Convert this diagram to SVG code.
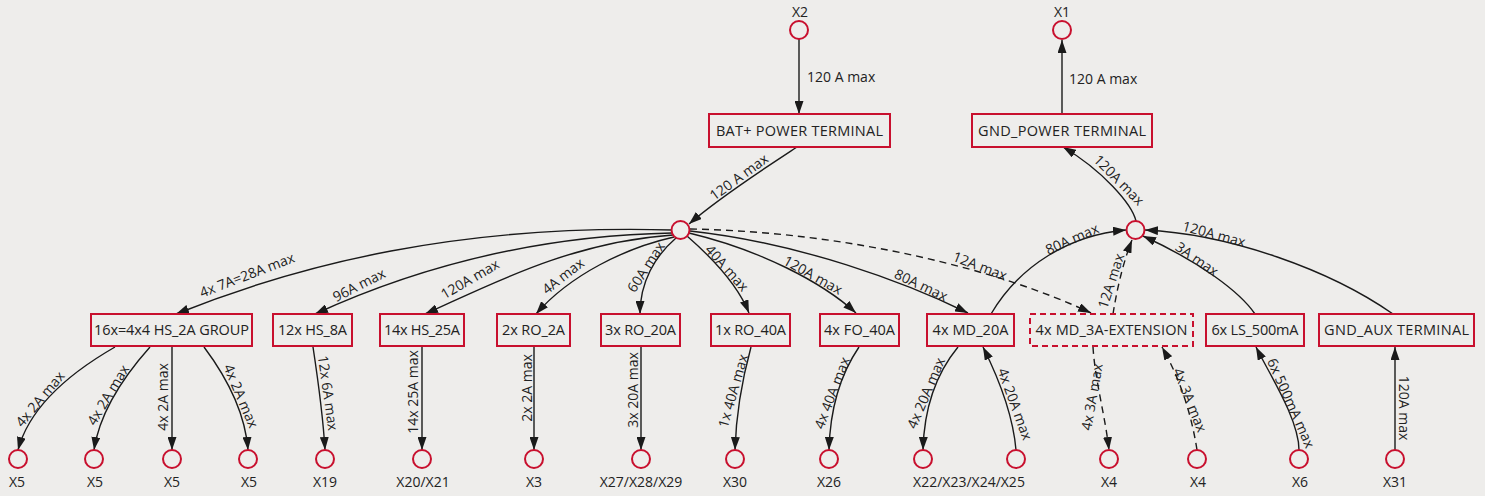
<svg xmlns="http://www.w3.org/2000/svg" width="1485" height="496" viewBox="0 0 1485 496">
<defs>
<marker id="arr" markerUnits="userSpaceOnUse" markerWidth="13" markerHeight="9" refX="13" refY="4.5" orient="auto">
<path d="M0,0 L13,4.5 L0,9 z" fill="#1a1a1a"/>
</marker>
<style>
text{font-family:"Open Sans","Liberation Sans",sans-serif;font-size:14px;fill:#222;}
.n{font-size:14.5px;text-anchor:middle;}
.box{fill:none;stroke:#c8102e;stroke-width:2;}
.dbox{fill:none;stroke:#c8102e;stroke-width:2;stroke-dasharray:6,4;}
.pin{fill:none;stroke:#c8102e;stroke-width:2;}
.e{fill:none;stroke:#1a1a1a;stroke-width:1.4;marker-end:url(#arr);}
.d{stroke-dasharray:7,5;}
.c{text-anchor:middle;}
</style>
</defs>
<rect width="1485" height="496" fill="#eeedeb"/>

<g id="connectors">
<path class="e" d="M799,39 L799,114"/>
<path class="e" d="M1062,114 L1062,40"/>
<path class="e" d="M797,147 C765,168 720,197 689,224"/>
<path class="e" d="M1136,221 C1132,204 1102,170 1063,147"/>
<path class="e" d="M672,230 C460,224 300,264 176,314"/>
<path class="e" d="M672,233 C520,236 400,275 315,314"/>
<path class="e" d="M673,235 C570,242 490,285 425,314"/>
<path class="e" d="M674,237 C625,248 570,275 536,314"/>
<path class="e" d="M676,238 C655,256 640,282 640,314"/>
<path class="e" d="M687,236 C710,256 737,283 749,313"/>
<path class="e" d="M689,233 C760,250 822,282 856,313"/>
<path class="e" d="M690,231 C800,243 905,282 968,313"/>
<path class="e d" d="M690,229 C850,232 1000,270 1091,313"/>
<path class="e" d="M991,314 C1020,265 1070,235 1126,230"/>
<path class="e d" d="M1113,314 C1116,295 1122,265 1132,240"/>
<path class="e" d="M1255,314 C1240,292 1200,262 1143,236"/>
<path class="e" d="M1393,314 C1330,270 1230,234 1145,230"/>
<path class="e" d="M115,347 C75,370 30,405 18,450"/>
<path class="e" d="M150,347 C125,375 100,410 94,450"/>
<path class="e" d="M172,347 L172,450"/>
<path class="e" d="M204,347 C225,375 245,410 248,450"/>
<path class="e" d="M313,347 C318,380 323,415 325,450"/>
<path class="e" d="M422,347 L422,450"/>
<path class="e" d="M534,347 L534,450"/>
<path class="e" d="M641,347 L641,450"/>
<path class="e" d="M751,347 C742,380 736,415 735,450"/>
<path class="e" d="M859,347 C840,375 830,410 829,450"/>
<path class="e" d="M958,347 C935,375 924,410 923,450"/>
<path class="e" d="M1016,450 C1013,415 997,375 983,347"/>
<path class="e d" d="M1093,347 C1095,380 1105,415 1109,450"/>
<path class="e d" d="M1197,450 C1190,405 1176,372 1162,347"/>
<path class="e" d="M1299,450 C1299,420 1270,375 1256,347"/>
<path class="e" d="M1395,450 L1395,347"/>

<text x="807" y="82">120 A max</text>
<text x="1069" y="84">120 A max</text>
<text class="c" transform="translate(739,177) rotate(-36)" y="5">120 A max</text>
<text class="c" transform="translate(1119,180) rotate(45)" y="5">120A max</text>
<text class="c" transform="translate(247,275) rotate(-21)" y="5">4x 7A=28A max</text>
<text class="c" transform="translate(359,285) rotate(-27)" y="5">96A max</text>
<text class="c" transform="translate(470,279) rotate(-30)" y="5">120A max</text>
<text class="c" transform="translate(563,276) rotate(-38)" y="5">4A max</text>
<text class="c" transform="translate(646,267) rotate(-57)" y="5">60A max</text>
<text class="c" transform="translate(727,268) rotate(48)" y="5">40A max</text>
<text class="c" transform="translate(813,275) rotate(29)" y="5">120A max</text>
<text class="c" transform="translate(921,285) rotate(25)" y="5">80A max</text>
<text class="c" transform="translate(980,266) rotate(21)" y="5">12A max</text>
<text class="c" transform="translate(1072,239) rotate(-24)" y="5">80A max</text>
<text class="c" transform="translate(1111,281) rotate(-72)" y="5">12A max</text>
<text class="c" transform="translate(1197,259) rotate(35)" y="5">3A max</text>
<text class="c" transform="translate(1214,234) rotate(15)" y="5">120A max</text>
<text class="c" transform="translate(40,399) rotate(-50)" y="5">4x 2A max</text>
<text class="c" transform="translate(108,395) rotate(-59)" y="5">4x 2A max</text>
<text class="c" transform="translate(163,397) rotate(-90)" y="5">4x 2A max</text>
<text class="c" transform="translate(241,396) rotate(67)" y="5">4x 2A max</text>
<text class="c" transform="translate(328,393) rotate(82)" y="5">12x 6A max</text>
<text class="c" transform="translate(413,392) rotate(-90)" y="5">14x 25A max</text>
<text class="c" transform="translate(527,388) rotate(-90)" y="5">2x 2A max</text>
<text class="c" transform="translate(633,390) rotate(-90)" y="5">3x 20A max</text>
<text class="c" transform="translate(733,391) rotate(-74)" y="5">1x 40A max</text>
<text class="c" transform="translate(832,393) rotate(-69)" y="5">4x 40A max</text>
<text class="c" transform="translate(926,393) rotate(-67)" y="5">4x 20A max</text>
<text class="c" transform="translate(1015,404) rotate(70)" y="5">4x 20A max</text>
<text class="c" transform="translate(1092,397) rotate(-80)" y="5">4x 3A max</text>
<text class="c" transform="translate(1190,400) rotate(68)" y="5">4x 3A max</text>
<text class="c" transform="translate(1291,403) rotate(66)" y="5">6x 500mA max</text>
<text class="c" transform="translate(1404,408) rotate(90)" y="5">120A max</text>
</g>

<g id="X2"><circle class="pin" cx="799" cy="30" r="9"/><text class="c" x="800" y="16.5">X2</text></g>
<g id="X1"><circle class="pin" cx="1062" cy="30" r="9"/><text class="c" x="1062" y="16.5">X1</text></g>
<g id="bat"><rect class="box" x="709" y="114" width="181" height="33"/><text class="n" x="799.5" y="135.5" textLength="167">BAT+ POWER TERMINAL</text></g>
<g id="gndpwr"><rect class="box" x="972" y="114" width="180" height="33"/><text class="n" x="1062" y="135.5" textLength="168">GND_POWER TERMINAL</text></g>
<g id="hub1"><circle class="pin" cx="680.5" cy="230" r="9"/></g>
<g id="hub2"><circle class="pin" cx="1135.5" cy="230" r="9"/></g>

<g id="hs2a"><rect class="box" x="91" y="314" width="161" height="32"/><text class="n" x="171.5" y="335" textLength="155">16x=4x4 HS_2A GROUP</text></g>
<g id="hs8a"><rect class="box" x="273" y="314" width="79" height="32"/><text class="n" x="312.5" y="335" textLength="69">12x HS_8A</text></g>
<g id="hs25a"><rect class="box" x="380" y="314" width="84" height="32"/><text class="n" x="422" y="335" textLength="76">14x HS_25A</text></g>
<g id="ro2a"><rect class="box" x="497" y="314" width="73" height="32"/><text class="n" x="533.5" y="335" textLength="63">2x RO_2A</text></g>
<g id="ro20a"><rect class="box" x="601" y="314" width="79" height="32"/><text class="n" x="640.5" y="335" textLength="71">3x RO_20A</text></g>
<g id="ro40a"><rect class="box" x="711" y="314" width="79" height="32"/><text class="n" x="750.5" y="335" textLength="71">1x RO_40A</text></g>
<g id="fo40a"><rect class="box" x="820" y="314" width="79" height="32"/><text class="n" x="859.5" y="335" textLength="71">4x FO_40A</text></g>
<g id="md20a"><rect class="box" x="927" y="314" width="87" height="32"/><text class="n" x="970.5" y="335" textLength="76">4x MD_20A</text></g>
<g id="md3a"><rect class="dbox" x="1030" y="314" width="163" height="32"/><text class="n" x="1111.5" y="335" textLength="152">4x MD_3A-EXTENSION</text></g>
<g id="ls500"><rect class="box" x="1206" y="314" width="98" height="32"/><text class="n" x="1255" y="335" textLength="87">6x LS_500mA</text></g>
<g id="gndaux"><rect class="box" x="1319" y="314" width="155" height="32"/><text class="n" x="1396.5" y="335" textLength="145">GND_AUX TERMINAL</text></g>

<g id="p1"><circle class="pin" cx="18" cy="459" r="9"/><text class="c" x="17" y="487">X5</text></g>
<g id="p2"><circle class="pin" cx="94" cy="459" r="9"/><text class="c" x="95" y="487">X5</text></g>
<g id="p3"><circle class="pin" cx="172" cy="459" r="9"/><text class="c" x="172" y="487">X5</text></g>
<g id="p4"><circle class="pin" cx="248" cy="459" r="9"/><text class="c" x="249" y="487">X5</text></g>
<g id="p5"><circle class="pin" cx="325" cy="459" r="9"/><text class="c" x="325" y="487">X19</text></g>
<g id="p6"><circle class="pin" cx="422" cy="459" r="9"/><text class="c" x="423" y="487">X20/X21</text></g>
<g id="p7"><circle class="pin" cx="534" cy="459" r="9"/><text class="c" x="534" y="487">X3</text></g>
<g id="p8"><circle class="pin" cx="641" cy="459" r="9"/><text class="c" x="641" y="487">X27/X28/X29</text></g>
<g id="p9"><circle class="pin" cx="735" cy="459" r="9"/><text class="c" x="735" y="487">X30</text></g>
<g id="p10"><circle class="pin" cx="829" cy="459" r="9"/><text class="c" x="829" y="487">X26</text></g>
<g id="p11"><circle class="pin" cx="923" cy="459" r="9"/><text class="c" x="969" y="487">X22/X23/X24/X25</text></g>
<g id="p12"><circle class="pin" cx="1016" cy="459" r="9"/></g>
<g id="p13"><circle class="pin" cx="1109" cy="459" r="9"/><text class="c" x="1109" y="487">X4</text></g>
<g id="p14"><circle class="pin" cx="1197" cy="459" r="9"/><text class="c" x="1198" y="487">X4</text></g>
<g id="p15"><circle class="pin" cx="1299" cy="459" r="9"/><text class="c" x="1300" y="487">X6</text></g>
<g id="p16"><circle class="pin" cx="1395" cy="459" r="9"/><text class="c" x="1395" y="487">X31</text></g>
</svg>
